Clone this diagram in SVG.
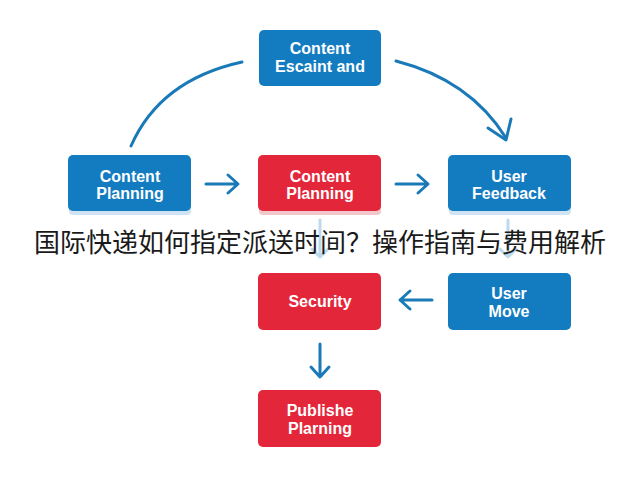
<svg xmlns="http://www.w3.org/2000/svg" width="640" height="480" viewBox="0 0 640 480">
<defs>
<style>
.blue{fill:#137cc0}
.red{fill:#e3263a}
.sh{fill:#cfe3f2}
.lbl{font-family:"Liberation Sans",Arial,sans-serif;font-size:16px;font-weight:bold;fill:#ffffff;text-anchor:middle}
.con{fill:none;stroke:#1a7ab8;stroke-width:3;stroke-linecap:round;stroke-linejoin:round}
.faint{fill:none;stroke:#bcd9ee;stroke-width:3;stroke-linecap:round;stroke-linejoin:round}
.title{font-family:"Noto Sans CJK SC","Noto Sans",sans-serif;font-size:26px;fill:#1a1a1a;text-anchor:middle}
</style>
</defs>
<rect width="640" height="480" fill="#ffffff"/>
<g id="connectors">
<path class="con" d="M131 146 Q160 80 242 62"/>
<path class="con" d="M396 61 Q470 80 506 138"/>
<path class="con" d="M488 128 L506 140 L511 119"/>
<path class="con" d="M206 184 L237 184 M228 175 L238 184 L228 193"/>
<path class="con" d="M396 184 L427 184 M418 175 L428 184 L418 193"/>
<path class="con" d="M432 300 L401 300 M410 291 L400 300 L410 309"/>
<path class="con" d="M320 344 L320 376 M311 367 L320 377 L329 367"/>
<path class="faint" d="M320 220 L320 256 M312 249 L320 257 L328 249"/>
<path class="faint" d="M508 220 L508 256 M500 249 L508 257 L516 249"/>
</g>
<g id="n-top">
<rect class="blue" x="259" y="30" width="122" height="56" rx="5"/>
<text class="lbl" x="320" y="54">Content</text>
<text class="lbl" x="320" y="72">Escaint and</text>
</g>
<g id="n-left">
<rect class="sh" x="69" y="203" width="122" height="12" rx="4"/>
<rect class="blue" x="68" y="155" width="123" height="56" rx="5"/>
<text class="lbl" x="130" y="182">Content</text>
<text class="lbl" x="130" y="199">Planning</text>
</g>
<g id="n-mid">
<rect fill="#f2c6ca" x="259" y="203" width="122" height="12" rx="4"/>
<rect class="red" x="258" y="155" width="123" height="56" rx="5"/>
<text class="lbl" x="320" y="182">Content</text>
<text class="lbl" x="320" y="199">Planning</text>
</g>
<g id="n-right">
<rect class="sh" x="449" y="203" width="122" height="12" rx="4"/>
<rect class="blue" x="448" y="155" width="123" height="56" rx="5"/>
<text class="lbl" x="509" y="182">User</text>
<text class="lbl" x="509" y="199">Feedback</text>
</g>
<g id="n-security">
<rect class="red" x="258" y="273" width="123" height="57" rx="5"/>
<text class="lbl" x="320" y="307">Security</text>
</g>
<g id="n-usermove">
<rect class="blue" x="448" y="273" width="123" height="57" rx="5"/>
<text class="lbl" x="509" y="299">User</text>
<text class="lbl" x="509" y="317">Move</text>
</g>
<g id="n-publish">
<rect class="red" x="258" y="390" width="123" height="57" rx="5"/>
<text class="lbl" x="320" y="416">Publishe</text>
<text class="lbl" x="320" y="434">Plarning</text>
</g>
<text class="title" x="320" y="252">国际快递如何指定派送时间？操作指南与费用解析</text>
</svg>
